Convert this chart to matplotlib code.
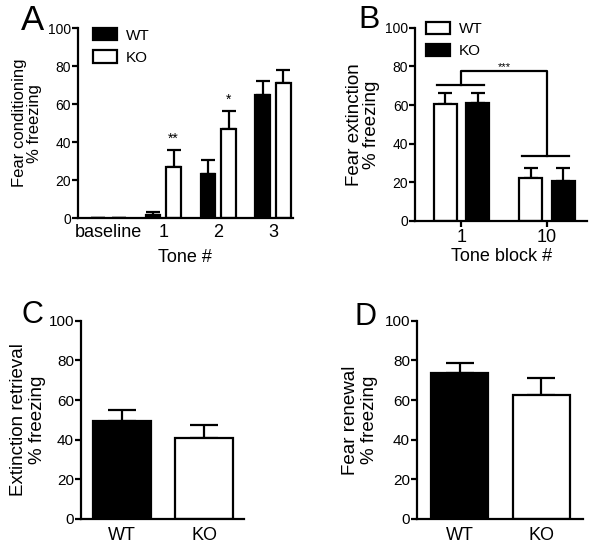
import matplotlib
matplotlib.use('Agg')
import matplotlib.pyplot as plt
from matplotlib.patches import Patch
import numpy as np

plt.rcParams['font.family'] = ['Liberation Sans', 'DejaVu Sans']

# --- data ---
tones = ['baseline', '1', '2', '3']
a_wt = [0.0, 1.7, 23.2, 64.6]
a_wt_err = [0.0, 1.3, 7.2, 7.4]
a_ko = [0.0, 26.8, 46.8, 71.4]
a_ko_err = [0.0, 9.2, 9.7, 6.6]
a_stars = ['', '**', '*', '']

blocks = ['1', '10']
b_wt = [60.7, 22.0]
b_wt_err = [5.5, 5.2]
b_ko = [61.0, 20.6]
b_ko_err = [5.2, 6.9]

groups = ['WT', 'KO']
c_vals = [49.6, 41.0]
c_err = [5.4, 6.4]
d_vals = [73.9, 62.5]
d_err = [4.8, 8.6]

LW = 1.6


def style_axis(ax, xsize, ysize=10, xpad=5, xticks=False):
    for s in ['top', 'right']:
        ax.spines[s].set_visible(False)
    for s in ['left', 'bottom']:
        ax.spines[s].set_linewidth(LW)
    ax.set_ylim(0, 100)
    ax.set_yticks([0, 20, 40, 60, 80, 100])
    ax.tick_params(axis='y', direction='out', length=4, width=LW, labelsize=ysize, pad=1)
    if xticks:
        ax.tick_params(axis='x', direction='out', length=4, width=LW, labelsize=xsize, pad=xpad)
    else:
        ax.tick_params(axis='x', length=0, labelsize=xsize, pad=xpad)


def bars(ax, x, vals, errs, color, width, cap):
    ax.bar(x, vals, width, color=color, edgecolor='black', linewidth=LW, zorder=2)
    ax.errorbar(x, vals, yerr=[np.zeros(len(errs)), errs], fmt='none',
                ecolor='black', elinewidth=LW, capsize=cap, capthick=LW, zorder=1)


def legend(ax, colors, anchor):
    ax.legend(handles=[Patch(facecolor=c, edgecolor='black', linewidth=LW, label=l)
                       for c, l in zip(colors, groups)],
              loc='upper left', bbox_to_anchor=anchor, frameon=False, fontsize=11,
              borderpad=0, borderaxespad=0, handlelength=1.55, handleheight=0.85,
              handletextpad=0.6, labelspacing=0.5)


fig = plt.figure(figsize=(6, 5.55), dpi=100)

# (A)
ax = fig.add_axes([0.13, 0.607, 0.358, 0.342])
x = np.arange(len(tones))
w = 0.26
bars(ax, x - 0.19, a_wt, a_wt_err, 'black', w, 5)
bars(ax, x + 0.19, a_ko, a_ko_err, 'white', w, 5)
for i, s in enumerate(a_stars):
    if s:
        ax.text(x[i] + 0.19, a_ko[i] + a_ko_err[i] + 2, s, ha='center', va='bottom', fontsize=10)
ax.set_xlim(-0.55, 3.36)
ax.set_xticks(x)
ax.set_xticklabels(tones)
style_axis(ax, 13, xpad=4)
ax.set_ylabel('Fear conditioning\n% freezing', fontsize=12, labelpad=4, linespacing=1.05)
ax.set_xlabel('Tone #', fontsize=13, labelpad=6)
legend(ax, ['black', 'white'], (0.07, 1.0))

# (B)
ax = fig.add_axes([0.692, 0.602, 0.287, 0.348])
x = np.arange(len(blocks))
w = 0.27
bars(ax, x - 0.19, b_wt, b_wt_err, 'white', w, 5)
bars(ax, x + 0.19, b_ko, b_ko_err, 'black', w, 5)
ax.plot([-0.28, 0.26], [70.5, 70.5], color='black', lw=LW)
ax.plot([0.71, 1.25], [33.6, 33.6], color='black', lw=LW)
ax.plot([0.0, 0.0, 1.0, 1.0], [70.5, 77.5, 77.5, 33.6], color='black', lw=LW)
ax.text(0.5, 77.0, '***', ha='center', va='bottom', fontsize=8)
ax.set_xlim(-0.54, 1.47)
ax.set_xticks(x)
ax.set_xticklabels(blocks)
style_axis(ax, 13, xpad=2, xticks=True)
ax.set_ylabel('Fear extinction\n% freezing', fontsize=13.5, labelpad=4, linespacing=1.0)
ax.set_xlabel('Tone block #', fontsize=13, labelpad=1)
legend(ax, ['white', 'black'], (0.064, 1.03))

# (C)
ax = fig.add_axes([0.135, 0.065, 0.272, 0.357])
x = np.arange(len(groups))
ax.bar(x, c_vals, 0.71, color=['black', 'white'], edgecolor='black', linewidth=LW, zorder=2)
ax.errorbar(x, c_vals, yerr=[np.zeros(2), c_err], fmt='none', ecolor='black',
            elinewidth=LW, capsize=10, capthick=LW, zorder=1)
ax.set_xlim(-0.5, 1.49)
ax.set_xticks(x)
ax.set_xticklabels(groups)
style_axis(ax, 13, ysize=11, xpad=6)
ax.set_ylabel('Extinction retrieval\n% freezing', fontsize=13.5, labelpad=2, linespacing=1.1)

# (D)
ax = fig.add_axes([0.695, 0.065, 0.277, 0.357])
ax.bar(x, d_vals, 0.70, color=['black', 'white'], edgecolor='black', linewidth=LW, zorder=2)
ax.errorbar(x, d_vals, yerr=[np.zeros(2), d_err], fmt='none', ecolor='black',
            elinewidth=LW, capsize=10, capthick=LW, zorder=1)
ax.set_xlim(-0.52, 1.51)
ax.set_xticks(x)
ax.set_xticklabels(groups)
style_axis(ax, 13, ysize=11, xpad=6)
ax.set_ylabel('Fear renewal\n% freezing', fontsize=13.5, labelpad=5, linespacing=1.15)

# panel letters
for lx, ly, s, fs in [(0.035, 0.946, 'A', 25), (0.598, 0.95, 'B', 23),
                      (0.036, 0.418, 'C', 22), (0.591, 0.414, 'D', 22)]:
    fig.text(lx, ly, s, fontsize=fs, ha='left', va='baseline')

fig.savefig('out.png', dpi=100)
